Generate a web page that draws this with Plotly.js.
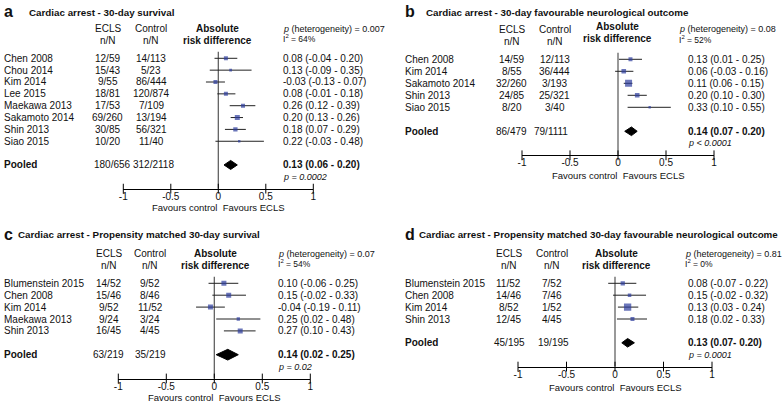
<!DOCTYPE html>
<html><head><meta charset="utf-8">
<script src="https://cdn.plot.ly/plotly-3.0.1.min.js"></script>
<style>html,body{margin:0;padding:0;background:#fff;overflow:hidden}#chart{width:784px;height:403px}</style>
</head><body><div id="chart"></div>
<script>
// ---------- DATA ----------
const tickVals = [-1, -0.5, 0, 0.5, 1];
const tickText = ["-1", "-0.5", "0", "0.5", "1"];

// Panel a: Cardiac arrest - 30-day survival
const aStudies = ["Chen 2008","Chou 2014","Kim 2014","Lee 2015","Maekawa 2013","Sakamoto 2014","Shin 2013","Siao 2015"];
const aEcls    = ["12/59","15/43","9/55","18/81","17/53","69/260","30/85","10/20"];
const aControl = ["14/113","5/23","86/444","120/874","7/109","13/194","56/321","11/40"];
const aEst = [0.08, 0.13, -0.03, 0.08, 0.26, 0.20, 0.18, 0.22];
const aLo  = [-0.04, -0.09, -0.13, -0.01, 0.12, 0.13, 0.07, -0.03];
const aHi  = [0.20, 0.35, 0.07, 0.18, 0.39, 0.26, 0.29, 0.48];
const aPooled  = [0.13, 0.06, 0.20];
const aPooledN = ["180/656", "312/2118"];
const aPooledP = "p = 0.0002";
const aHet = ["0.007", "64%"];

// Panel b: Cardiac arrest - 30-day favourable neurological outcome
const bStudies = ["Chen 2008","Kim 2014","Sakamoto 2014","Shin 2013","Siao 2015"];
const bEcls    = ["14/59","8/55","32/260","24/85","8/20"];
const bControl = ["12/113","36/444","3/193","25/321","3/40"];
const bEst = [0.13, 0.06, 0.11, 0.20, 0.33];
const bLo  = [0.01, -0.03, 0.06, 0.10, 0.10];
const bHi  = [0.25, 0.16, 0.15, 0.30, 0.55];
const bPooled  = [0.14, 0.07, 0.20];
const bPooledN = ["86/479", "79/1111"];
const bPooledP = "p < 0.0001";
const bHet = ["0.08", "52%"];

// Panel c: Cardiac arrest - Propensity matched 30-day survival
const cStudies = ["Blumenstein 2015","Chen 2008","Kim 2014","Maekawa 2013","Shin 2013"];
const cEcls    = ["14/52","15/46","9/52","9/24","16/45"];
const cControl = ["9/52","8/46","11/52","3/24","4/45"];
const cEst = [0.10, 0.15, -0.04, 0.25, 0.27];
const cLo  = [-0.06, -0.02, -0.19, 0.02, 0.10];
const cHi  = [0.25, 0.33, 0.11, 0.48, 0.43];
const cPooled  = [0.14, 0.02, 0.25];
const cPooledN = ["63/219", "35/219"];
const cPooledP = "p = 0.02";
const cHet = ["0.07", "54%"];

// Panel d: Cardiac arrest - Propensity matched 30-day favourable neurological outcome
const dStudies = ["Blumenstein 2015","Chen 2008","Kim 2014","Shin 2013"];
const dEcls    = ["11/52","14/46","8/52","12/45"];
const dControl = ["7/52","7/46","1/52","4/45"];
const dEst = [0.08, 0.15, 0.13, 0.18];
const dLo  = [-0.07, -0.02, 0.03, 0.02];
const dHi  = [0.22, 0.32, 0.24, 0.33];
const dPooled  = [0.13, 0.07, 0.20];
const dPooledN = ["45/195", "19/195"];
const dPooledP = "p = 0.0001";
const dHet = ["0.81", "0%"];
const dPooledLabel = "0.13 (0.07- 0.20)";

// ---------- STYLE ----------
const aSize = [4, 2.8, 4, 4, 4, 5, 4.3, 2.4];
const bSize = [4, 4.6, 7, 4.6, 2.4];
const cSize = [5, 5, 5, 3.3, 5];
const dSize = [4.3, 3.5, 7.3, 4];

const FONT = "Liberation Sans, Arial, Helvetica, sans-serif";
const TXT = "#111";
const BLUE = "#2c3c9c";
const W = 784, H = 403;
const px = x => x / W, py = y => 1 - y / H;

const traces = [], annotations = [], shapes = [];
const layout = {
  width: W, height: H, margin: {l:0, r:0, t:0, b:0},
  paper_bgcolor: "#fff", plot_bgcolor: "rgba(0,0,0,0)",
  showlegend: false, font: {family: FONT, size: 10, color: TXT},
  annotations, shapes
};

const fmt = v => v.toFixed(2);

function note(x, xref, y, yref, text, size, xanchor, extra) {
  annotations.push(Object.assign({
    x, xref, y, yref, text, showarrow: false, xanchor: xanchor || "left", yanchor: "middle",
    borderpad: 0, font: {family: FONT, size: size || 10, color: TXT}
  }, extra || {}));
}

function addPanel(k, d, c) {
  const sfx = k === 1 ? "" : String(k);
  const xa = "x" + sfx, ya = "y" + sfx;
  const n = d.studies.length;
  const rows = d.studies.map((_, i) => i);
  const pr = n + 1, pRow = n + 2, axRow = n + 3;
  const top = c.row0 - 3 * c.step, bot = c.row0 + axRow * c.step;

  layout["xaxis" + sfx] = {
    domain: [px(c.xm1), px(c.xp1)], range: [-1, 1], anchor: ya,
    showline: true, linecolor: "#000", linewidth: 1, ticks: "",
    tickmode: "array", tickvals: tickVals, ticktext: tickText,
    tickfont: {family: FONT, size: 10, color: TXT}, ticklabelstandoff: -2,
    showgrid: false, zeroline: false, fixedrange: true
  };
  layout["yaxis" + sfx] = {
    domain: [py(bot), py(top)], range: [axRow, -3], visible: false,
    anchor: xa, fixedrange: true, showgrid: false, zeroline: false
  };

  // zero line
  shapes.push({type: "line", xref: xa, yref: ya, x0: 0, x1: 0, y0: -0.55, y1: axRow,
               line: {color: "#555", width: 1.2}, layer: "below"});

  // study estimates with CIs
  traces.push({
    type: "scatter", mode: "markers", xaxis: xa, yaxis: ya, hoverinfo: "skip",
    x: d.est, y: rows,
    marker: {symbol: "square", size: c.sizes, color: BLUE, line: {width: 0}},
    error_x: {type: "data", symmetric: false,
              array: d.hi.map((h, i) => h - d.est[i]),
              arrayminus: d.lo.map((l, i) => d.est[i] - l),
              color: "#222", thickness: 1, width: 0}
  });

  // pooled diamond
  const h = c.dh;
  traces.push({
    type: "scatter", mode: "lines", xaxis: xa, yaxis: ya, hoverinfo: "skip",
    x: [d.pooled[1], d.pooled[0], d.pooled[2], d.pooled[0], d.pooled[1]],
    y: [pr, pr - h, pr, pr + h, pr],
    fill: "toself", fillcolor: "#000", line: {color: "#000", width: 1}
  });

  // crossing tick marks on the axis
  traces.push({
    type: "scatter", mode: "markers", xaxis: xa, yaxis: ya, hoverinfo: "skip", cliponaxis: false,
    x: tickVals, y: tickVals.map(() => axRow),
    marker: {symbol: "line-ns", size: 7, line: {width: 1, color: "#000"}}
  });

  // panel title
  note(px(c.letterX), "paper", py(c.titleY - 1), "paper", "<b>" + c.letter + "</b>", 16);
  note(px(c.titleX), "paper", py(c.titleY), "paper", "<b>" + c.title + "</b>", 9.8);

  // headers
  note(px(c.eclsC), "paper", -2.5, ya, "ECLS", 10, "center");
  note(px(c.eclsC), "paper", -1.5, ya, "n/N", 10, "center");
  note(px(c.ctrlC), "paper", -2.5, ya, "Control", 10, "center");
  note(px(c.ctrlC), "paper", -1.5, ya, "n/N", 10, "center");
  note(px(c.absC), "paper", -2.5 + c.absShift, ya, "<b>Absolute</b>", 10, "center");
  note(px(c.absC), "paper", -1.5 + c.absShift, ya, "<b>risk difference</b>", 10, "center");
  note(px(c.hetX), "paper", -2.5, ya, "<i>p</i> (heterogeneity) = " + d.het[0], 9);
  note(px(c.hetX), "paper", -1.65, ya, "I<sup>2</sup> = " + d.het[1], 8.5);

  // rows
  d.studies.forEach((s, i) => {
    note(px(c.nameX), "paper", i, ya, s, 10);
    note(px(c.eclsC), "paper", i, ya, d.ecls[i], 10, "center");
    note(px(c.ctrlC), "paper", i, ya, d.control[i], 10, "center");
    note(px(c.estX), "paper", i, ya, fmt(d.est[i]) + " (" + fmt(d.lo[i]) + " - " + fmt(d.hi[i]) + ")", 10);
  });

  // pooled row
  note(px(c.nameX), "paper", pr, ya, "<b>Pooled</b>", 10);
  note(px(c.eclsPC), "paper", pr, ya, d.pooledN[0], 10, "center");
  note(px(c.ctrlPC), "paper", pr, ya, d.pooledN[1], 10, "center");
  const pl = d.pooledLabel || (fmt(d.pooled[0]) + " (" + fmt(d.pooled[1]) + " - " + fmt(d.pooled[2]) + ")");
  note(px(c.estX), "paper", pr, ya, "<b>" + pl + "</b>", 10);
  note(px(c.estX), "paper", pRow, ya, "<i>" + d.pooledP + "</i>", 9);

  // favours text
  note(0, xa, py(c.favY), "paper", "Favours control  Favours ECLS", 9.5, "center");
}

addPanel(1, {studies: aStudies, ecls: aEcls, control: aControl, est: aEst, lo: aLo, hi: aHi,
             pooled: aPooled, pooledN: aPooledN, pooledP: aPooledP, het: aHet},
  {letter: "a", title: "Cardiac arrest - 30-day survival", letterX: 3, titleX: 28, titleY: 12.5,
   xm1: 123.3, xp1: 313.3, row0: 58.3, step: 11.85, nameX: 3, eclsC: 108, ctrlC: 151,
   eclsPC: 112, ctrlPC: 153.5, absC: 217.5, absShift: 0, estX: 282, hetX: 282, favY: 207.5, sizes: aSize, dh: 0.38});

addPanel(2, {studies: bStudies, ecls: bEcls, control: bControl, est: bEst, lo: bLo, hi: bHi,
             pooled: bPooled, pooledN: bPooledN, pooledP: bPooledP, het: bHet},
  {letter: "b", title: "Cardiac arrest - 30-day favourable neurological outcome", letterX: 404, titleX: 425, titleY: 12.5,
   xm1: 522, xp1: 714, row0: 59.3, step: 12, nameX: 404, eclsC: 512, ctrlC: 554.5,
   eclsPC: 511.5, ctrlPC: 551, absC: 617.5, absShift: -0.25, estX: 687, hetX: 678, favY: 175.5, sizes: bSize, dh: 0.36});

addPanel(3, {studies: cStudies, ecls: cEcls, control: cControl, est: cEst, lo: cLo, hi: cHi,
             pooled: cPooled, pooledN: cPooledN, pooledP: cPooledP, het: cHet},
  {letter: "c", title: "Cardiac arrest - Propensity matched 30-day survival", letterX: 3, titleX: 17, titleY: 235,
   xm1: 118.3, xp1: 310.3, row0: 283.3, step: 11.9, nameX: 3, eclsC: 108.5, ctrlC: 150.3,
   eclsPC: 108.3, ctrlPC: 150, absC: 215.5, absShift: 0, estX: 276.7, hetX: 276.7, favY: 397.5, sizes: cSize, dh: 0.45});

addPanel(4, {studies: dStudies, ecls: dEcls, control: dControl, est: dEst, lo: dLo, hi: dHi,
             pooled: dPooled, pooledN: dPooledN, pooledP: dPooledP, het: dHet, pooledLabel: dPooledLabel},
  {letter: "d", title: "Cardiac arrest - Propensity matched 30-day favourable neurological outcome", letterX: 404, titleX: 418, titleY: 235,
   xm1: 518, xp1: 712, row0: 283.3, step: 11.9, nameX: 404, eclsC: 508.7, ctrlC: 552,
   eclsPC: 509.5, ctrlPC: 553, absC: 616, absShift: 0, estX: 687, hetX: 684, favY: 387, sizes: dSize, dh: 0.36});

Plotly.newPlot("chart", traces, layout, {staticPlot: true, displayModeBar: false});
</script></body></html>
